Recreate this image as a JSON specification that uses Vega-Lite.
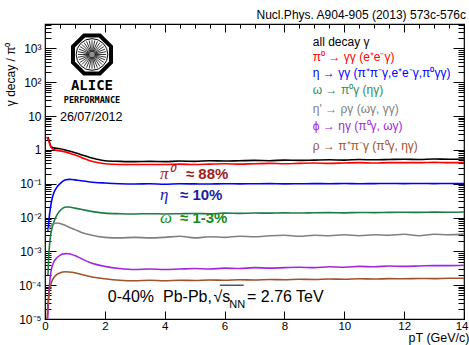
{
  "$schema": "https://vega.github.io/schema/vega-lite/v6.json",
  "width": 419,
  "height": 295,
  "autosize": {"type": "none"},
  "padding": {"left": 45, "top": 24, "right": 5, "bottom": 26},
  "background": "white",
  "title": {"text": "Nucl.Phys. A904-905 (2013) 573c-576c", "anchor": "end", "frame": "group", "font": "Liberation Sans", "fontSize": 12, "fontWeight": "normal", "color": "#000000", "offset": 5, "baseline": "alphabetic", "dx": 2, "dy": 17},
  "config": {"view": {"stroke": "#000000", "strokeWidth": 1.2}},
  "datasets": {
    "curves": [
      {"series": "all", "pt": 0.1, "r": 2.4}, {"series": "all", "pt": 0.15, "r": 1.7}, {"series": "all", "pt": 0.2, "r": 1.25}, {"series": "all", "pt": 0.3, "r": 1.15}, {"series": "all", "pt": 0.4, "r": 1.11}, {"series": "all", "pt": 0.5, "r": 1.08}, {"series": "all", "pt": 0.7, "r": 0.98}, {"series": "all", "pt": 0.9, "r": 0.88}, {"series": "all", "pt": 1.1, "r": 0.78}, {"series": "all", "pt": 1.3, "r": 0.68}, {"series": "all", "pt": 1.5, "r": 0.6}, {"series": "all", "pt": 1.7, "r": 0.54}, {"series": "all", "pt": 2.0, "r": 0.48}, {"series": "all", "pt": 2.5, "r": 0.46}, {"series": "all", "pt": 3.0, "r": 0.45}, {"series": "all", "pt": 3.5, "r": 0.46}, {"series": "all", "pt": 4.0, "r": 0.45}, {"series": "all", "pt": 4.5, "r": 0.47}, {"series": "all", "pt": 5.0, "r": 0.46}, {"series": "all", "pt": 5.5, "r": 0.48}, {"series": "all", "pt": 6.0, "r": 0.47}, {"series": "all", "pt": 6.5, "r": 0.48}, {"series": "all", "pt": 7.0, "r": 0.49}, {"series": "all", "pt": 7.5, "r": 0.48}, {"series": "all", "pt": 8.0, "r": 0.5}, {"series": "all", "pt": 8.5, "r": 0.49}, {"series": "all", "pt": 9.0, "r": 0.5}, {"series": "all", "pt": 9.5, "r": 0.51}, {"series": "all", "pt": 10.0, "r": 0.5}, {"series": "all", "pt": 10.5, "r": 0.52}, {"series": "all", "pt": 11.0, "r": 0.51}, {"series": "all", "pt": 11.5, "r": 0.52}, {"series": "all", "pt": 12.0, "r": 0.53}, {"series": "all", "pt": 12.5, "r": 0.52}, {"series": "all", "pt": 13.0, "r": 0.54}, {"series": "all", "pt": 13.5, "r": 0.53}, {"series": "all", "pt": 14.0, "r": 0.54},
      {"series": "pi0", "pt": 0.05, "r": 2.4}, {"series": "pi0", "pt": 0.1, "r": 2.1}, {"series": "pi0", "pt": 0.15, "r": 1.6}, {"series": "pi0", "pt": 0.2, "r": 1.2}, {"series": "pi0", "pt": 0.3, "r": 1.02}, {"series": "pi0", "pt": 0.4, "r": 0.97}, {"series": "pi0", "pt": 0.5, "r": 0.94}, {"series": "pi0", "pt": 0.7, "r": 0.86}, {"series": "pi0", "pt": 0.9, "r": 0.76}, {"series": "pi0", "pt": 1.1, "r": 0.66}, {"series": "pi0", "pt": 1.3, "r": 0.56}, {"series": "pi0", "pt": 1.5, "r": 0.48}, {"series": "pi0", "pt": 1.7, "r": 0.43}, {"series": "pi0", "pt": 2.0, "r": 0.39}, {"series": "pi0", "pt": 2.5, "r": 0.37}, {"series": "pi0", "pt": 3.0, "r": 0.37}, {"series": "pi0", "pt": 3.5, "r": 0.37}, {"series": "pi0", "pt": 4.0, "r": 0.37}, {"series": "pi0", "pt": 4.5, "r": 0.38}, {"series": "pi0", "pt": 5.0, "r": 0.37}, {"series": "pi0", "pt": 5.5, "r": 0.38}, {"series": "pi0", "pt": 6.0, "r": 0.39}, {"series": "pi0", "pt": 6.5, "r": 0.38}, {"series": "pi0", "pt": 7.0, "r": 0.39}, {"series": "pi0", "pt": 7.5, "r": 0.4}, {"series": "pi0", "pt": 8.0, "r": 0.39}, {"series": "pi0", "pt": 8.5, "r": 0.4}, {"series": "pi0", "pt": 9.0, "r": 0.41}, {"series": "pi0", "pt": 9.5, "r": 0.4}, {"series": "pi0", "pt": 10.0, "r": 0.41}, {"series": "pi0", "pt": 10.5, "r": 0.42}, {"series": "pi0", "pt": 11.0, "r": 0.41}, {"series": "pi0", "pt": 11.5, "r": 0.42}, {"series": "pi0", "pt": 12.0, "r": 0.42}, {"series": "pi0", "pt": 12.5, "r": 0.42}, {"series": "pi0", "pt": 13.0, "r": 0.43}, {"series": "pi0", "pt": 13.5, "r": 0.42}, {"series": "pi0", "pt": 14.0, "r": 0.43},
      {"series": "eta", "pt": 0.1, "r": 0.004}, {"series": "eta", "pt": 0.15, "r": 0.012}, {"series": "eta", "pt": 0.2, "r": 0.025}, {"series": "eta", "pt": 0.25, "r": 0.04}, {"series": "eta", "pt": 0.3, "r": 0.055}, {"series": "eta", "pt": 0.4, "r": 0.08}, {"series": "eta", "pt": 0.5, "r": 0.1}, {"series": "eta", "pt": 0.6, "r": 0.12}, {"series": "eta", "pt": 0.7, "r": 0.132}, {"series": "eta", "pt": 0.8, "r": 0.135}, {"series": "eta", "pt": 0.9, "r": 0.134}, {"series": "eta", "pt": 1.0, "r": 0.13}, {"series": "eta", "pt": 1.2, "r": 0.122}, {"series": "eta", "pt": 1.5, "r": 0.113}, {"series": "eta", "pt": 2.0, "r": 0.105}, {"series": "eta", "pt": 2.5, "r": 0.1}, {"series": "eta", "pt": 3.0, "r": 0.098}, {"series": "eta", "pt": 3.5, "r": 0.1}, {"series": "eta", "pt": 4.0, "r": 0.097}, {"series": "eta", "pt": 4.5, "r": 0.1}, {"series": "eta", "pt": 5.0, "r": 0.099}, {"series": "eta", "pt": 5.5, "r": 0.098}, {"series": "eta", "pt": 6.0, "r": 0.1}, {"series": "eta", "pt": 6.5, "r": 0.099}, {"series": "eta", "pt": 7.0, "r": 0.1}, {"series": "eta", "pt": 7.5, "r": 0.101}, {"series": "eta", "pt": 8.0, "r": 0.099}, {"series": "eta", "pt": 8.5, "r": 0.1}, {"series": "eta", "pt": 9.0, "r": 0.101}, {"series": "eta", "pt": 9.5, "r": 0.1}, {"series": "eta", "pt": 10.0, "r": 0.102}, {"series": "eta", "pt": 10.5, "r": 0.1}, {"series": "eta", "pt": 11.0, "r": 0.101}, {"series": "eta", "pt": 11.5, "r": 0.102}, {"series": "eta", "pt": 12.0, "r": 0.101}, {"series": "eta", "pt": 12.5, "r": 0.102}, {"series": "eta", "pt": 13.0, "r": 0.101}, {"series": "eta", "pt": 13.5, "r": 0.102}, {"series": "eta", "pt": 14.0, "r": 0.101},
      {"series": "omega", "pt": 0.1, "r": 0.0002}, {"series": "omega", "pt": 0.12, "r": 0.0006}, {"series": "omega", "pt": 0.15, "r": 0.0015}, {"series": "omega", "pt": 0.2, "r": 0.0035}, {"series": "omega", "pt": 0.3, "r": 0.0075}, {"series": "omega", "pt": 0.4, "r": 0.012}, {"series": "omega", "pt": 0.5, "r": 0.016}, {"series": "omega", "pt": 0.6, "r": 0.019}, {"series": "omega", "pt": 0.7, "r": 0.0205}, {"series": "omega", "pt": 0.8, "r": 0.0205}, {"series": "omega", "pt": 1.0, "r": 0.019}, {"series": "omega", "pt": 1.2, "r": 0.0175}, {"series": "omega", "pt": 1.5, "r": 0.0155}, {"series": "omega", "pt": 2.0, "r": 0.0135}, {"series": "omega", "pt": 2.5, "r": 0.013}, {"series": "omega", "pt": 3.0, "r": 0.0128}, {"series": "omega", "pt": 3.5, "r": 0.013}, {"series": "omega", "pt": 4.0, "r": 0.0128}, {"series": "omega", "pt": 4.5, "r": 0.013}, {"series": "omega", "pt": 5.0, "r": 0.0132}, {"series": "omega", "pt": 5.5, "r": 0.013}, {"series": "omega", "pt": 6.0, "r": 0.0135}, {"series": "omega", "pt": 6.5, "r": 0.0133}, {"series": "omega", "pt": 7.0, "r": 0.0136}, {"series": "omega", "pt": 7.5, "r": 0.0135}, {"series": "omega", "pt": 8.0, "r": 0.0138}, {"series": "omega", "pt": 8.5, "r": 0.0136}, {"series": "omega", "pt": 9.0, "r": 0.0139}, {"series": "omega", "pt": 9.5, "r": 0.014}, {"series": "omega", "pt": 10.0, "r": 0.0138}, {"series": "omega", "pt": 10.5, "r": 0.0141}, {"series": "omega", "pt": 11.0, "r": 0.014}, {"series": "omega", "pt": 11.5, "r": 0.0142}, {"series": "omega", "pt": 12.0, "r": 0.0143}, {"series": "omega", "pt": 12.5, "r": 0.0142}, {"series": "omega", "pt": 13.0, "r": 0.0145}, {"series": "omega", "pt": 13.5, "r": 0.0144}, {"series": "omega", "pt": 14.0, "r": 0.0146},
      {"series": "etap", "pt": 0.1, "r": 0.0042}, {"series": "etap", "pt": 0.15, "r": 0.005}, {"series": "etap", "pt": 0.2, "r": 0.0058}, {"series": "etap", "pt": 0.3, "r": 0.0066}, {"series": "etap", "pt": 0.4, "r": 0.0069}, {"series": "etap", "pt": 0.5, "r": 0.0067}, {"series": "etap", "pt": 0.6, "r": 0.0062}, {"series": "etap", "pt": 0.8, "r": 0.0052}, {"series": "etap", "pt": 1.0, "r": 0.0044}, {"series": "etap", "pt": 1.2, "r": 0.0037}, {"series": "etap", "pt": 1.5, "r": 0.0031}, {"series": "etap", "pt": 2.0, "r": 0.0026}, {"series": "etap", "pt": 2.5, "r": 0.0025}, {"series": "etap", "pt": 3.0, "r": 0.0026}, {"series": "etap", "pt": 3.5, "r": 0.0025}, {"series": "etap", "pt": 4.0, "r": 0.0026}, {"series": "etap", "pt": 4.5, "r": 0.0028}, {"series": "etap", "pt": 5.0, "r": 0.0025}, {"series": "etap", "pt": 5.5, "r": 0.0027}, {"series": "etap", "pt": 6.0, "r": 0.0026}, {"series": "etap", "pt": 6.5, "r": 0.0028}, {"series": "etap", "pt": 7.0, "r": 0.0027}, {"series": "etap", "pt": 7.5, "r": 0.0029}, {"series": "etap", "pt": 8.0, "r": 0.003}, {"series": "etap", "pt": 8.5, "r": 0.0028}, {"series": "etap", "pt": 9.0, "r": 0.003}, {"series": "etap", "pt": 9.5, "r": 0.0029}, {"series": "etap", "pt": 10.0, "r": 0.0031}, {"series": "etap", "pt": 10.5, "r": 0.0029}, {"series": "etap", "pt": 11.0, "r": 0.0031}, {"series": "etap", "pt": 11.5, "r": 0.003}, {"series": "etap", "pt": 12.0, "r": 0.0032}, {"series": "etap", "pt": 12.5, "r": 0.0029}, {"series": "etap", "pt": 13.0, "r": 0.0032}, {"series": "etap", "pt": 13.5, "r": 0.0031}, {"series": "etap", "pt": 14.0, "r": 0.0033},
      {"series": "phi", "pt": 0.09, "r": 0.00001}, {"series": "phi", "pt": 0.12, "r": 0.00004}, {"series": "phi", "pt": 0.15, "r": 0.0001}, {"series": "phi", "pt": 0.2, "r": 0.00025}, {"series": "phi", "pt": 0.3, "r": 0.0005}, {"series": "phi", "pt": 0.4, "r": 0.00065}, {"series": "phi", "pt": 0.5, "r": 0.00076}, {"series": "phi", "pt": 0.6, "r": 0.00083}, {"series": "phi", "pt": 0.7, "r": 0.00086}, {"series": "phi", "pt": 0.8, "r": 0.00085}, {"series": "phi", "pt": 1.0, "r": 0.00075}, {"series": "phi", "pt": 1.2, "r": 0.00062}, {"series": "phi", "pt": 1.5, "r": 0.00047}, {"series": "phi", "pt": 2.0, "r": 0.00036}, {"series": "phi", "pt": 2.5, "r": 0.00031}, {"series": "phi", "pt": 3.0, "r": 0.00029}, {"series": "phi", "pt": 3.5, "r": 0.0003}, {"series": "phi", "pt": 4.0, "r": 0.00029}, {"series": "phi", "pt": 4.5, "r": 0.0003}, {"series": "phi", "pt": 5.0, "r": 0.00031}, {"series": "phi", "pt": 5.5, "r": 0.0003}, {"series": "phi", "pt": 6.0, "r": 0.00032}, {"series": "phi", "pt": 6.5, "r": 0.00031}, {"series": "phi", "pt": 7.0, "r": 0.00033}, {"series": "phi", "pt": 7.5, "r": 0.00032}, {"series": "phi", "pt": 8.0, "r": 0.00033}, {"series": "phi", "pt": 8.5, "r": 0.00034}, {"series": "phi", "pt": 9.0, "r": 0.00033}, {"series": "phi", "pt": 9.5, "r": 0.00035}, {"series": "phi", "pt": 10.0, "r": 0.00034}, {"series": "phi", "pt": 10.5, "r": 0.00036}, {"series": "phi", "pt": 11.0, "r": 0.00035}, {"series": "phi", "pt": 11.5, "r": 0.00037}, {"series": "phi", "pt": 12.0, "r": 0.00036}, {"series": "phi", "pt": 12.5, "r": 0.00037}, {"series": "phi", "pt": 13.0, "r": 0.00038}, {"series": "phi", "pt": 13.5, "r": 0.00038}, {"series": "phi", "pt": 14.0, "r": 0.00039},
      {"series": "rho", "pt": 0.07, "r": 0.00001}, {"series": "rho", "pt": 0.1, "r": 0.00003}, {"series": "rho", "pt": 0.15, "r": 0.00007}, {"series": "rho", "pt": 0.2, "r": 0.00011}, {"series": "rho", "pt": 0.3, "r": 0.00017}, {"series": "rho", "pt": 0.4, "r": 0.00021}, {"series": "rho", "pt": 0.5, "r": 0.00023}, {"series": "rho", "pt": 0.6, "r": 0.000245}, {"series": "rho", "pt": 0.7, "r": 0.00025}, {"series": "rho", "pt": 0.9, "r": 0.00024}, {"series": "rho", "pt": 1.2, "r": 0.00021}, {"series": "rho", "pt": 1.5, "r": 0.00018}, {"series": "rho", "pt": 2.0, "r": 0.000155}, {"series": "rho", "pt": 2.5, "r": 0.00014}, {"series": "rho", "pt": 3.0, "r": 0.000135}, {"series": "rho", "pt": 3.5, "r": 0.00014}, {"series": "rho", "pt": 4.0, "r": 0.000135}, {"series": "rho", "pt": 4.5, "r": 0.00014}, {"series": "rho", "pt": 5.0, "r": 0.000138}, {"series": "rho", "pt": 5.5, "r": 0.000142}, {"series": "rho", "pt": 6.0, "r": 0.00014}, {"series": "rho", "pt": 6.5, "r": 0.000145}, {"series": "rho", "pt": 7.0, "r": 0.000143}, {"series": "rho", "pt": 7.5, "r": 0.000147}, {"series": "rho", "pt": 8.0, "r": 0.000145}, {"series": "rho", "pt": 8.5, "r": 0.00015}, {"series": "rho", "pt": 9.0, "r": 0.000148}, {"series": "rho", "pt": 9.5, "r": 0.000152}, {"series": "rho", "pt": 10.0, "r": 0.00015}, {"series": "rho", "pt": 10.5, "r": 0.000155}, {"series": "rho", "pt": 11.0, "r": 0.000152}, {"series": "rho", "pt": 11.5, "r": 0.000156}, {"series": "rho", "pt": 12.0, "r": 0.000155}, {"series": "rho", "pt": 12.5, "r": 0.000158}, {"series": "rho", "pt": 13.0, "r": 0.000156}, {"series": "rho", "pt": 13.5, "r": 0.00016}, {"series": "rho", "pt": 14.0, "r": 0.00016}
    ],
    "legend": [
      {"label": "all decay γ", "series": "all", "pt": 8.95, "r": 1592},
      {"label": "π⁰ → γγ (e⁺e⁻γ)", "series": "pi0", "pt": 8.95, "r": 550},
      {"label": "η → γγ (π⁺π⁻γ,e⁺e⁻γ,π⁰γγ)", "series": "eta", "pt": 8.95, "r": 185},
      {"label": "ω → π⁰γ (ηγ)", "series": "omegatxt", "pt": 8.95, "r": 59.3},
      {"label": "η' → ργ (ωγ, γγ)", "series": "etap", "pt": 8.95, "r": 16.3},
      {"label": "ϕ → ηγ (π⁰γ, ωγ)", "series": "phi", "pt": 8.95, "r": 5.11},
      {"label": "ρ → π⁺π⁻γ (π⁰γ, ηγ)", "series": "rho", "pt": 8.95, "r": 1.31}
    ],
    "greek": [
      {"label": "π⁰", "series": "pi0lab", "pt": 3.84, "r": 0.195},
      {"label": "η", "series": "etalab", "pt": 3.84, "r": 0.0464},
      {"label": "ω", "series": "omegalab", "pt": 3.84, "r": 0.0097}
    ],
    "fractions": [
      {"label": "≈ 88%", "series": "pi0lab", "pt": 4.71, "r": 0.195},
      {"label": "≈ 10%", "series": "etalab", "pt": 4.51, "r": 0.0464},
      {"label": "≈ 1-3%", "series": "omegalab", "pt": 4.51, "r": 0.0097}
    ]
  },
  "layer": [
    {
      "layer": [
        {
          "data": {"name": "curves"},
          "mark": {"type": "line", "strokeWidth": 1.6, "clip": true, "interpolate": "monotone"},
          "encoding": {
            "x": {
              "field": "pt", "type": "quantitative",
              "scale": {"domain": [0, 14], "nice": false, "zero": false},
              "axis": {
                "orient": "bottom", "grid": false, "domain": false,
                "values": [0, 0.5, 1, 1.5, 2, 2.5, 3, 3.5, 4, 4.5, 5, 5.5, 6, 6.5, 7, 7.5, 8, 8.5, 9, 9.5, 10, 10.5, 11, 11.5, 12, 12.5, 13, 13.5, 14],
                "labelExpr": "datum.value % 2 == 0 ? format(datum.value, 'd') : ''",
                "labelAlign": {"condition": {"test": "datum.value == 14", "value": "right"}, "value": "center"},
                "labelOffset": {"condition": {"test": "datum.value == 14", "value": 4}, "value": 0},
                "tickSize": {"condition": {"test": "datum.value % 2 == 0", "value": -8}, "value": -4},
                "tickColor": "#000000", "labelColor": "#000000", "labelFont": "Liberation Sans", "labelFontSize": 11.5,
                "labelPadding": 9, "labelOverlap": false, "labelFlush": false,
                "title": "pT (GeV/c)", "titleFont": "Liberation Sans", "titleFontSize": 12.5, "titleFontWeight": "normal", "titleColor": "#000000",
                "titleAnchor": "end", "titleAlign": "right", "titleX": 424, "titleY": 22.5, "titleBaseline": "alphabetic"
              }
            },
            "y": {
              "field": "r", "type": "quantitative",
              "scale": {"type": "log", "domain": [0.00001, 5300], "nice": false},
              "axis": {
                "orient": "left", "grid": false, "domain": false,
                "values": [0.00001, 0.00002, 0.00003, 0.00004, 0.00005, 0.00006, 0.00007, 0.00008, 0.00009, 0.0001, 0.0002, 0.0003, 0.0004, 0.0005, 0.0006, 0.0007, 0.0008, 0.0009, 0.001, 0.002, 0.003, 0.004, 0.005, 0.006, 0.007, 0.008, 0.009, 0.01, 0.02, 0.03, 0.04, 0.05, 0.06, 0.07, 0.08, 0.09, 0.1, 0.2, 0.3, 0.4, 0.5, 0.6, 0.7, 0.8, 0.9, 1, 2, 3, 4, 5, 6, 7, 8, 9, 10, 20, 30, 40, 50, 60, 70, 80, 90, 100, 200, 300, 400, 500, 600, 700, 800, 900, 1000, 2000, 3000, 4000, 5000],
                "labelExpr": "datum.value == 1 ? '1' : datum.value == 10 ? '10' : datum.value == 100 ? '10²' : datum.value == 1000 ? '10³' : datum.value == 0.1 ? '10⁻¹' : datum.value == 0.01 ? '10⁻²' : datum.value == 0.001 ? '10⁻³' : datum.value == 0.0001 ? '10⁻⁴' : datum.value == 0.00001 ? '10⁻⁵' : ''",
                "tickSize": {"condition": {"test": "indexof([0.00001, 0.0001, 0.001, 0.01, 0.1, 1, 10, 100, 1000], datum.value) >= 0", "value": -11}, "value": -6},
                "tickColor": "#000000", "labelColor": "#000000", "labelFont": "Liberation Sans", "labelFontSize": 12,
                "labelPadding": 15, "labelOverlap": false, "labelFlush": false,
                "title": "γ decay / π⁰", "titleFont": "Liberation Sans", "titleFontSize": 12, "titleFontWeight": "normal", "titleColor": "#000000",
                "titleAnchor": "end", "titleAngle": 270, "titleAlign": "right", "titleBaseline": "middle", "titleX": -35, "titleY": 18
              }
            },
            "color": {
              "field": "series", "type": "nominal", "legend": null,
              "scale": {
                "domain": ["all", "pi0", "eta", "omega", "etap", "phi", "rho", "omegatxt", "pi0lab", "etalab", "omegalab"],
                "range": ["#000000", "#ff0000", "#0000ff", "#1e7b45", "#808080", "#a424e0", "#a0522d", "#2e8b57", "#a01c1c", "#1c1ca0", "#1a8a1a"]
              }
            }
          }
        },
        {
          "data": {"name": "legend"},
          "mark": {"type": "text", "align": "left", "baseline": "middle", "font": "Liberation Sans", "fontSize": 12},
          "encoding": {
            "x": {"field": "pt", "type": "quantitative"},
            "y": {"field": "r", "type": "quantitative"},
            "text": {"field": "label"},
            "color": {"field": "series", "type": "nominal", "legend": null}
          }
        },
        {
          "data": {"name": "greek"},
          "mark": {"type": "text", "align": "left", "baseline": "middle", "font": "Liberation Serif", "fontStyle": "italic", "fontSize": 17},
          "encoding": {
            "x": {"field": "pt", "type": "quantitative"},
            "y": {"field": "r", "type": "quantitative"},
            "text": {"field": "label"},
            "color": {"field": "series", "type": "nominal", "legend": null}
          }
        },
        {
          "data": {"name": "fractions"},
          "mark": {"type": "text", "align": "left", "baseline": "middle", "font": "Liberation Sans", "fontWeight": "bold", "fontSize": 15},
          "encoding": {
            "x": {"field": "pt", "type": "quantitative"},
            "y": {"field": "r", "type": "quantitative"},
            "text": {"field": "label"},
            "color": {"field": "series", "type": "nominal", "legend": null}
          }
        },
        {
          "data": {"values": [{"label": "26/07/2012", "pt": 0.5, "r": 9.44}]},
          "mark": {"type": "text", "align": "left", "baseline": "middle", "font": "Liberation Sans", "fontSize": 12.5, "color": "#000000"},
          "encoding": {
            "x": {"field": "pt", "type": "quantitative"},
            "y": {"field": "r", "type": "quantitative"},
            "text": {"field": "label"}
          }
        },
        {
          "data": {"values": [{"label": "0-40%\u00a0\u00a0Pb-Pb,", "pt": 2.1, "r": 0.0000448}, {"label": "√s", "pt": 5.63, "r": 0.0000448}, {"label": "= 2.76 TeV", "pt": 6.75, "r": 0.0000448}]},
          "mark": {"type": "text", "align": "left", "baseline": "middle", "font": "Liberation Sans", "fontSize": 16, "color": "#000000"},
          "encoding": {
            "x": {"field": "pt", "type": "quantitative"},
            "y": {"field": "r", "type": "quantitative"},
            "text": {"field": "label"}
          }
        },
        {
          "data": {"values": [{"label": "NN", "pt": 6.16, "r": 0.000026}]},
          "mark": {"type": "text", "align": "left", "baseline": "middle", "font": "Liberation Sans", "fontSize": 11, "color": "#000000"},
          "encoding": {
            "x": {"field": "pt", "type": "quantitative"},
            "y": {"field": "r", "type": "quantitative"},
            "text": {"field": "label"}
          }
        },
        {
          "data": {"values": [{"pt": 5.84, "pt2": 6.64, "r": 0.0001}]},
          "mark": {"type": "rule", "color": "#000000", "strokeWidth": 1},
          "encoding": {
            "x": {"field": "pt", "type": "quantitative"},
            "x2": {"field": "pt2"},
            "y": {"field": "r", "type": "quantitative"}
          }
        },
        {
          "data": {"values": [{"pt": 1.57, "r": 665}]},
          "mark": {"type": "point", "shape": "M-0.414,-1L0.414,-1L1,-0.414L1,0.414L0.414,1L-0.414,1L-1,0.414L-1,-0.414Z", "size": 1444, "filled": true, "fill": "#ffffff", "stroke": "#000000", "strokeWidth": 4, "opacity": 1},
          "encoding": {
            "x": {"field": "pt", "type": "quantitative"},
            "y": {"field": "r", "type": "quantitative"}
          }
        },
        {
          "data": {"values": [{"pt": 1.57, "r": 665}]},
          "mark": {"type": "point", "shape": "circle", "size": 1000, "filled": false, "stroke": "#000000", "strokeWidth": 1, "opacity": 1},
          "encoding": {
            "x": {"field": "pt", "type": "quantitative"},
            "y": {"field": "r", "type": "quantitative"}
          }
        },
        {
          "data": {"values": [{"pt": 1.57, "r": 665}]},
          "mark": {"type": "point", "shape": "M-0.75,0L0.75,0M-0.693,-0.287L0.693,0.287M-0.53,-0.53L0.53,0.53M-0.287,-0.693L0.287,0.693M0,-0.75L0,0.75M0.287,-0.693L-0.287,0.693M0.53,-0.53L-0.53,0.53M0.693,-0.287L-0.693,0.287M-0.74,-0.147L0.74,0.147M-0.624,-0.417L0.624,0.417M-0.417,-0.624L0.417,0.624M-0.147,-0.74L0.147,0.74M0.147,-0.74L-0.147,0.74M0.417,-0.624L-0.417,0.624M0.624,-0.417L-0.624,0.417M0.74,-0.147L-0.74,0.147", "size": 1444, "filled": false, "stroke": "#000000", "strokeWidth": 0.8, "opacity": 1},
          "encoding": {
            "x": {"field": "pt", "type": "quantitative"},
            "y": {"field": "r", "type": "quantitative"}
          }
        },
        {
          "data": {"values": [{"pt": 1.57, "r": 665}]},
          "mark": {"type": "point", "shape": "circle", "size": 30, "filled": true, "fill": "#909090", "opacity": 1},
          "encoding": {
            "x": {"field": "pt", "type": "quantitative"},
            "y": {"field": "r", "type": "quantitative"}
          }
        },
        {
          "data": {"values": [{"label": "ALICE", "pt": 1.57, "r": 77.9}]},
          "mark": {"type": "text", "align": "center", "baseline": "middle", "font": "DejaVu Sans Mono", "fontWeight": "bold", "fontSize": 14, "color": "#000000"},
          "encoding": {
            "x": {"field": "pt", "type": "quantitative"},
            "y": {"field": "r", "type": "quantitative"},
            "text": {"field": "label"}
          }
        },
        {
          "data": {"values": [{"label": "PERFORMANCE", "pt": 1.57, "r": 31.0}]},
          "mark": {"type": "text", "align": "center", "baseline": "middle", "font": "DejaVu Sans Mono", "fontWeight": "bold", "fontSize": 8.5, "color": "#000000"},
          "encoding": {
            "x": {"field": "pt", "type": "quantitative"},
            "y": {"field": "r", "type": "quantitative"},
            "text": {"field": "label"}
          }
        }
      ]
    },
    {
      "data": {"name": "curves"},
      "mark": {"type": "point", "opacity": 0},
      "encoding": {
        "x": {
          "field": "pt", "type": "quantitative",
          "axis": {
            "orient": "top", "grid": false, "domain": false, "labels": false, "title": null,
            "values": [0, 0.5, 1, 1.5, 2, 2.5, 3, 3.5, 4, 4.5, 5, 5.5, 6, 6.5, 7, 7.5, 8, 8.5, 9, 9.5, 10, 10.5, 11, 11.5, 12, 12.5, 13, 13.5, 14],
            "tickSize": {"condition": {"test": "datum.value % 2 == 0", "value": -8}, "value": -4},
            "tickColor": "#000000"
          }
        },
        "y": {
          "field": "r", "type": "quantitative",
          "axis": {
            "orient": "right", "grid": false, "domain": false, "labels": false, "title": null,
            "values": [0.00001, 0.00002, 0.00003, 0.00004, 0.00005, 0.00006, 0.00007, 0.00008, 0.00009, 0.0001, 0.0002, 0.0003, 0.0004, 0.0005, 0.0006, 0.0007, 0.0008, 0.0009, 0.001, 0.002, 0.003, 0.004, 0.005, 0.006, 0.007, 0.008, 0.009, 0.01, 0.02, 0.03, 0.04, 0.05, 0.06, 0.07, 0.08, 0.09, 0.1, 0.2, 0.3, 0.4, 0.5, 0.6, 0.7, 0.8, 0.9, 1, 2, 3, 4, 5, 6, 7, 8, 9, 10, 20, 30, 40, 50, 60, 70, 80, 90, 100, 200, 300, 400, 500, 600, 700, 800, 900, 1000, 2000, 3000, 4000, 5000],
            "tickSize": {"condition": {"test": "indexof([0.00001, 0.0001, 0.001, 0.01, 0.1, 1, 10, 100, 1000], datum.value) >= 0", "value": -11}, "value": -6},
            "tickColor": "#000000"
          }
        }
      }
    }
  ],
  "resolve": {"axis": {"x": "independent", "y": "independent"}}
}
